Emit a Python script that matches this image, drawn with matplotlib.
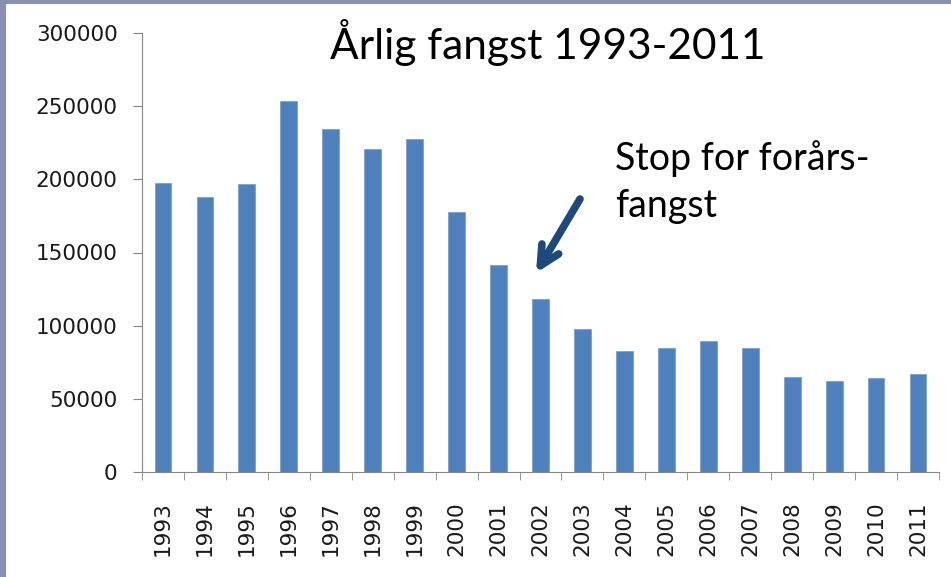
import numpy as np
import matplotlib
matplotlib.use("Agg")
import matplotlib.pyplot as plt
from matplotlib.patches import Rectangle

# yearly catch
years = [str(y) for y in range(1993, 2012)]
catch = [197500, 188000, 196800, 253500, 234400, 220700, 227600, 177700,
         141500, 118200, 97700, 82700, 84700, 89500, 84700, 64900, 62400,
         64000, 66800]

title = "Årlig fangst 1993-2011"
note = "Stop for forårs-\nfangst"

W, H = 951, 577
fig = plt.figure(figsize=(W / 100, H / 100), dpi=100, facecolor="#8a90b0")

# white slide area, thin strip of slide background on the left and top
fig.patches.append(Rectangle((6 / W, 0), 1 - 6 / W, 1 - 4 / H, transform=fig.transFigure,
                             facecolor="white", edgecolor="none", zorder=-10))

ax = fig.add_axes([142 / W, 1 - 472 / H, (939 - 142) / W, (472 - 33) / H])
ax.set_facecolor("none")

x = np.arange(len(years))
ax.bar(x, catch, width=0.4, color="#4f81bd", edgecolor="#7fa2cf", linewidth=0.6, zorder=2)

ax.set_xlim(-0.5, len(years) - 0.5)
ax.set_ylim(0, 300000)
ax.set_yticks(np.arange(0, 300001, 50000))
ax.set_yticklabels([str(v) for v in range(0, 300001, 50000)])
ax.set_xticks(x)
ax.set_xticklabels(years, rotation=90)
ax.set_xticks(np.arange(-0.5, len(years)), minor=True)

for s in ["top", "right"]:
    ax.spines[s].set_visible(False)
for s in ["left", "bottom"]:
    ax.spines[s].set_color("#868686")

ax.tick_params(axis="y", length=6.5, color="#868686", pad=11, labelsize=15.5, labelcolor="#1a1a1a")
ax.tick_params(axis="x", which="major", length=0, pad=21, labelsize=15.5, labelcolor="#1a1a1a")
ax.tick_params(axis="x", which="minor", length=6, color="#868686")

fig.text(548 / W, 1 - 43 / H, title, ha="center", va="center", fontsize=30.5,
         family="Lato", color="black")
fig.text(615 / W, 1 - 140 / H, note, ha="left", va="top", fontsize=27,
         family="Lato", color="black", linespacing=1.4)

ax.annotate("", xy=(536 / W, 1 - 273 / H), xycoords="figure fraction",
            xytext=(580 / W, 1 - 199 / H), textcoords="figure fraction",
            arrowprops=dict(arrowstyle="->,head_length=1.4,head_width=0.7",
                            color="#1f497d", lw=5.5, shrinkA=0, shrinkB=0))

fig.savefig("out.png", dpi=100, facecolor=fig.get_facecolor())
